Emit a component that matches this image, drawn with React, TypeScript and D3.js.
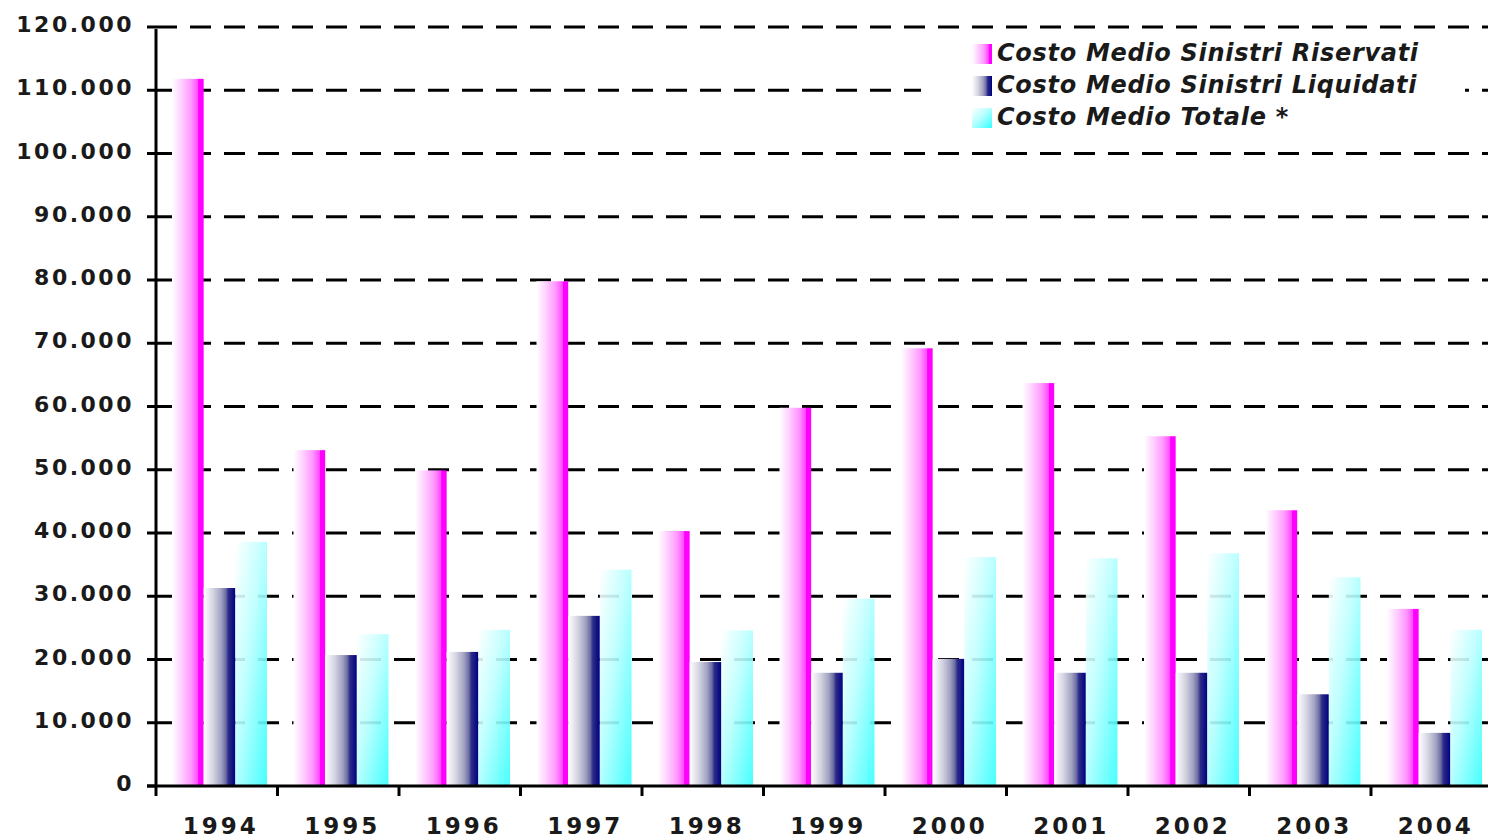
import React from "react";
import * as d3 from "d3";

const years = ["1994", "1995", "1996", "1997", "1998", "1999", "2000", "2001", "2002", "2003", "2004"];
const seriesNames = [
  "Costo Medio Sinistri Riservati",
  "Costo Medio Sinistri Liquidati",
  "Costo Medio Totale *",
];
const riservati = [111800, 53100, 49900, 79800, 40300, 59800, 69200, 63700, 55300, 43600, 28000];
const liquidati = [31300, 20700, 21200, 26900, 19600, 17900, 20100, 17900, 17900, 14500, 8400];
const totale = [38600, 24000, 24700, 34200, 24600, 29600, 36200, 36000, 36800, 33000, 24700];
const yTicks = [0, 10000, 20000, 30000, 40000, 50000, 60000, 70000, 80000, 90000, 100000, 110000, 120000];

const W = 1488;
const H = 839;
const X0 = 156;
const GROUP_W = 121.5;
const Y0 = 786;
const YTOP = 27;

const fill = ["url(#gMag)", "url(#gNavy)", "url(#gCyan)"];

const locale = d3.formatLocale({ thousands: ".", grouping: [3], decimal: ",", currency: ["", ""] });
const fmt = (v: number) => (v === 0 ? "0" : locale.format(",")(v));

export default function App() {
  const x = d3.scaleBand<string>().domain(years).range([X0, X0 + years.length * GROUP_W]).padding(0);
  const x1 = d3.scaleBand<number>().domain([0, 1, 2]).range([16, 111]).padding(0);
  const y = d3.scaleLinear().domain([0, 120000]).range([Y0, YTOP]);
  const series = [riservati, liquidati, totale];

  return (
    <svg width={W} height={H} style={{ position: "absolute", left: 0, top: 0, background: "#fff" }}>
      <defs>
        <linearGradient id="gMag" x1="0" y1="0" x2="1" y2="0">
          <stop offset="0" stopColor="#ffffff" />
          <stop offset="0.3" stopColor="#ffd0ff" />
          <stop offset="0.6" stopColor="#ff99ff" />
          <stop offset="0.82" stopColor="#ff4cff" />
          <stop offset="0.84" stopColor="#ff00ff" />
          <stop offset="1" stopColor="#ff00ff" />
        </linearGradient>
        <linearGradient id="gNavy" x1="0" y1="0" x2="1" y2="0">
          <stop offset="0" stopColor="#ffffff" />
          <stop offset="0.3" stopColor="#d4d4e2" />
          <stop offset="0.55" stopColor="#a2a2c2" />
          <stop offset="0.7" stopColor="#6c6ca4" />
          <stop offset="0.78" stopColor="#2c2c88" />
          <stop offset="1" stopColor="#000080" />
        </linearGradient>
        <linearGradient id="gCyan" x1="0" y1="0" x2="1" y2="1">
          <stop offset="0" stopColor="#ffffff" />
          <stop offset="0.45" stopColor="#b8ffff" />
          <stop offset="1" stopColor="#33ffff" />
        </linearGradient>
      </defs>

      {/* gridlines */}
      {yTicks.filter((t) => t > 0).map((t) => (
        <line key={"g" + t} x1={X0} x2={W} y1={y(t)} y2={y(t)} stroke="#000" strokeWidth={3} strokeDasharray="21,13" />
      ))}
      {/* y ticks */}
      {yTicks.map((t) => (
        <line key={"t" + t} x1={147} x2={X0} y1={y(t)} y2={y(t)} stroke="#000" strokeWidth={3} />
      ))}

      {/* bars */}
      {years.map((yr, i) => (
        <g key={yr} transform={`translate(${x(yr)},0)`}>
          {series.map((s, k) => (
            <rect
              key={k}
              x={x1(k)}
              y={y(s[i])}
              width={x1.bandwidth()}
              height={Y0 - y(s[i])}
              fill={fill[k]}
              opacity={k === 2 ? 0.9 : 1}
            />
          ))}
        </g>
      ))}

      {/* axes */}
      <line x1={X0} x2={X0} y1={YTOP + 2} y2={Y0} stroke="#000" strokeWidth={3} />
      <line x1={147} x2={W} y1={Y0} y2={Y0} stroke="#000" strokeWidth={3} />
      {years.map((yr) => (
        <line key={"xt" + yr} x1={x(yr)!} x2={x(yr)!} y1={Y0} y2={796} stroke="#000" strokeWidth={3} />
      ))}

      {/* y labels */}
      {yTicks.map((t) => (
        <text key={"yl" + t} x={134} y={y(t) + 5} textAnchor="end" fontFamily="DejaVu Sans" fontWeight="bold" fontSize={22} letterSpacing={2.5} fill="#1a1a1a">
          {fmt(t)}
        </text>
      ))}
      {/* x labels */}
      {years.map((yr) => (
        <text key={"xl" + yr} x={x(yr)! + x.bandwidth() / 2 + 4} y={834} textAnchor="middle" fontFamily="DejaVu Sans" fontWeight="bold" fontSize={23} letterSpacing={3} fill="#1a1a1a">
          {yr}
        </text>
      ))}

      {/* legend */}
      <rect x={921} y={34} width={544} height={104} fill="#fff" />
      {seriesNames.map((n, k) => (
        <g key={n} transform={`translate(972,${44 + k * 32})`}>
          <rect x={0} y={0} width={20} height={20} fill={fill[k]} />
          <text x={25} y={17} fontFamily="DejaVu Sans" fontWeight="bold" fontStyle="italic" fontSize={24} letterSpacing={0.7} fill="#1a1a1a">
            {n}
          </text>
        </g>
      ))}
    </svg>
  );
}
